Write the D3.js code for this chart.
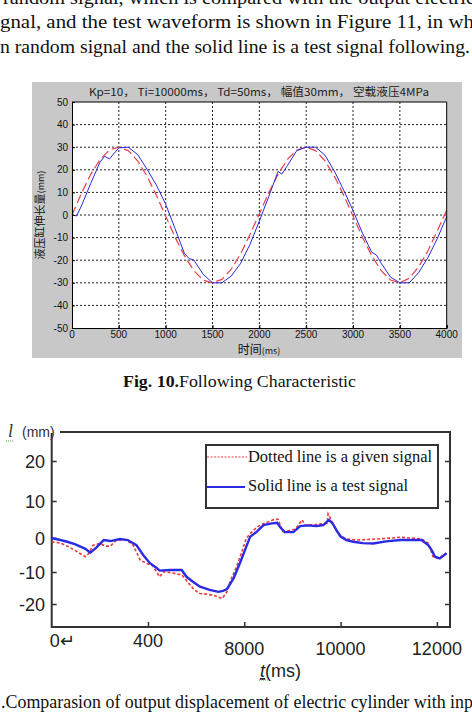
<!DOCTYPE html>
<html>
<head>
<meta charset="utf-8">
<script src="https://cdn.jsdelivr.net/npm/d3@7"></script>
<style>
  body { margin: 0; background: #fff; }
  svg { display: block; }
</style>
</head>
<body>
<div id="chart"></div>
<script>
// ---------- data: Fig. 10 (sine following test) ----------
const fig10Time = [0, 100, 200, 300, 400, 500, 600, 700, 800, 900, 1000, 1100, 1200, 1300, 1400, 1500, 1600, 1700, 1800, 1900, 2000,
  2100, 2200, 2300, 2400, 2500, 2600, 2700, 2800, 2900, 3000, 3100, 3200, 3300, 3400, 3500, 3600, 3700, 3800, 3900, 4000];
const fig10Given = [0, 9.5, 18, 24.6, 28.8, 30, 28.5, 24, 17.2, 8.8, -0.5, -9.8, -18, -24.6, -28.8, -30, -28.5, -24, -17.2, -8.6, 0.5,
  9.8, 18, 24.6, 28.8, 30, 28.5, 24, 17.2, 8.8, -0.5, -9.8, -18, -24.6, -28.8, -30, -28, -23, -15.8, -7, 2.2];
const fig10TestTime = [0, 50, 100, 200, 300, 350, 400, 450, 500, 600, 700, 800, 900, 1000, 1100, 1200, 1250, 1300, 1400, 1500, 1600,
  1700, 1800, 1900, 2000, 2100, 2200, 2240, 2300, 2400, 2500, 2600, 2700, 2800, 2900, 3000, 3100, 3200, 3250, 3300, 3400, 3500, 3600,
  3700, 3800, 3900, 4000];
const fig10Test = [0, -0.4, 4, 14, 23.5, 26, 24.8, 27.3, 29.7, 30, 26.8, 20.3, 13.3, 4.8, -6, -17, -19.3, -19.9, -26.2, -30, -30,
  -27, -21.4, -13, -2.7, 8.1, 19.3, 18.1, 21.9, 28.5, 30, 30, 26.5, 19.5, 11, 2, -8, -16.5, -17.7, -21.3, -27.5, -30, -30,
  -25.5, -18.8, -10.4, -0.7];
const fig10XTicks = [0, 500, 1000, 1500, 2000, 2500, 3000, 3500, 4000];
const fig10YTicks = [50, 40, 30, 20, 10, 0, -10, -20, -30, -40, -50];

// ---------- data: Fig. 11 (random signal following) ----------
// x is in tick-slot units (the printed tick labels are not evenly valued)
const fig11TestX = [0, 0.09, 0.16, 0.24, 0.35, 0.40, 0.46, 0.54, 0.61, 0.71, 0.79, 0.88, 0.95, 1.02, 1.09, 1.12, 1.23, 1.35, 1.40,
  1.47, 1.54, 1.64, 1.73, 1.78, 1.82, 1.89, 1.96, 2.02, 2.06, 2.13, 2.20, 2.27, 2.34, 2.38, 2.42, 2.51, 2.58, 2.66, 2.75, 2.82,
  2.88, 2.92, 2.96, 3.00, 3.06, 3.13, 3.23, 3.34, 3.47, 3.62, 3.73, 3.84, 3.91, 3.95, 3.98, 4.03, 4.10];
const fig11Test = [0, -0.6, -1.1, -1.8, -3.2, -4.3, -2.9, -0.6, -0.9, -0.3, -0.6, -2.1, -5.0, -7.4, -8.8, -9.6, -9.4, -9.4, -11.5,
  -13.1, -14.6, -15.6, -16.2, -15.9, -15.3, -11.9, -7.0, -2.6, 0.3, 1.7, 3.5, 3.9, 4.1, 2.7, 1.6, 1.6, 3.2, 3.4, 3.2, 3.5,
  4.9, 3.8, 2.0, 0.4, -0.6, -1.1, -1.5, -1.6, -1.0, -0.6, -0.6, -0.6, -2.1, -3.8, -5.5, -6.0, -4.5];
const fig11GivenX = [0, 0.09, 0.17, 0.25, 0.35, 0.38, 0.43, 0.50, 0.56, 0.61, 0.66, 0.71, 0.77, 0.84, 0.92, 0.98, 1.05, 1.09, 1.12,
  1.16, 1.23, 1.35, 1.42, 1.48, 1.54, 1.60, 1.68, 1.77, 1.82, 1.86, 1.92, 1.97, 2.02, 2.07, 2.13, 2.19, 2.30, 2.35, 2.40, 2.47,
  2.53, 2.60, 2.63, 2.73, 2.86, 2.87, 2.90, 2.95, 2.99, 3.06, 3.17, 3.31, 3.48, 3.62, 3.73, 3.84, 3.91, 3.96, 4.01, 4.10];
const fig11Given = [-1.1, -1.5, -2.5, -3.8, -5.5, -4.7, -2.1, -1.6, -2.4, -2.4, -0.9, -0.6, -0.6, -1.8, -6.5, -7.4, -8.2, -10.0, -11.5,
  -9.9, -10.2, -10.9, -13.4, -15.6, -16.7, -16.9, -17.3, -18.3, -16.2, -12.5, -8.4, -4.4, -0.1, 1.4, 2.9, 3.8, 4.9, 5.1, 1.7, 2.0,
  2.4, 4.9, 3.5, 3.6, 4.0, 6.5, 5.1, 2.2, 0.8, -0.3, -0.6, -0.4, -0.1, 0.2, 0, -0.3, -1.5, -5.5, -6.0, -4.5];
const fig11XTicks = [0, 1, 2, 3, 4];
const fig11XLabels = ["0\u21B5", "400", "8000", "10000", "12000"];
const fig11YTicks = [20, 10, 0, -10, -20];

const W = 472, H = 716;
const svg = d3.select("#chart").append("svg")
  .attr("width", W).attr("height", H)
  .style("background", "#fff");

const serif = "'Liberation Serif', 'Times New Roman', serif";
const sans = "'Liberation Sans', Arial, sans-serif";

// ---------- page text ----------
const para = [
  { t: "random signal, which is compared with the output electric", x: 3, y: 4, len: 472 },
  { t: "gnal, and the test waveform is shown in Figure 11, in wh", x: 0, y: 28, len: 474 },
  { t: "n random signal and the solid line is a test signal following.", x: 0, y: 53, len: 470 }
];
svg.selectAll("text.para").data(para).enter().append("text")
  .attr("class", "para")
  .attr("x", d => d.x).attr("y", d => d.y)
  .attr("textLength", d => d.len).attr("lengthAdjust", "spacingAndGlyphs")
  .style("font-family", serif).style("font-size", "18px").style("fill", "#111")
  .text(d => d.t);

// =========================
// FIG. 10
// =========================
const g1 = svg.append("g");
g1.append("rect").attr("x", 32).attr("y", 82).attr("width", 430).attr("height", 276).attr("fill", "#c8c8c8");

const x1 = d3.scaleLinear().domain([0, 4000]).range([72, 446.7]);
const y1 = d3.scaleLinear().domain([-50, 50]).range([328, 102]);

g1.append("rect").attr("x", x1(0)).attr("y", y1(50))
  .attr("width", x1(4000) - x1(0)).attr("height", y1(-50) - y1(50)).attr("fill", "#fff");

// grid
g1.selectAll("line.vg").data(fig10XTicks.slice(1, -1)).enter().append("line")
  .attr("x1", d => x1(d)).attr("x2", d => x1(d)).attr("y1", y1(50)).attr("y2", y1(-50))
  .attr("stroke", "#222").attr("stroke-width", 1).attr("stroke-dasharray", "2,2");
g1.selectAll("line.hg").data(fig10YTicks.slice(1, -1)).enter().append("line")
  .attr("y1", d => y1(d)).attr("y2", d => y1(d)).attr("x1", x1(0)).attr("x2", x1(4000))
  .attr("stroke", "#222").attr("stroke-width", 1).attr("stroke-dasharray", "2,2");

const line1 = d3.line().x(d => x1(d[0])).y(d => y1(d[1]));
g1.append("path").datum(d3.zip(fig10Time, fig10Given))
  .attr("d", line1).attr("fill", "none").attr("stroke", "#e8404a")
  .attr("stroke-width", 1.2).attr("stroke-dasharray", "9,4");
g1.append("path").datum(d3.zip(fig10TestTime, fig10Test))
  .attr("d", line1).attr("fill", "none").attr("stroke", "#2a2ad8").attr("stroke-width", 1);

// axes box
g1.append("g").attr("transform", `translate(0,${y1(-50)})`)
  .call(d3.axisBottom(x1).tickValues(fig10XTicks).tickSize(-3).tickFormat(""))
  .call(g => g.select(".domain").attr("stroke", "#000"));
g1.append("g").attr("transform", `translate(${x1(0)},0)`)
  .call(d3.axisLeft(y1).tickValues(fig10YTicks).tickSize(-3).tickFormat(""))
  .call(g => g.select(".domain").attr("stroke", "#000"));
g1.append("line").attr("x1", x1(0)).attr("x2", x1(4000)).attr("y1", y1(50)).attr("y2", y1(50)).attr("stroke", "#000");
g1.append("line").attr("x1", x1(4000)).attr("x2", x1(4000)).attr("y1", y1(50)).attr("y2", y1(-50)).attr("stroke", "#000");

g1.selectAll("text.xl").data(fig10XTicks).enter().append("text")
  .attr("x", d => x1(d)).attr("y", 337.5).attr("text-anchor", "middle")
  .style("font-family", sans).style("font-size", "10px").style("fill", "#111")
  .text(d => d);
g1.selectAll("text.yl").data(fig10YTicks).enter().append("text")
  .attr("x", 68).attr("y", d => y1(d) + 3.5).attr("text-anchor", "end")
  .style("font-family", sans).style("font-size", "10px").style("fill", "#111")
  .text(d => d);

g1.append("text").attr("x", 259).attr("y", 96).attr("text-anchor", "middle")
  .attr("textLength", 340).attr("lengthAdjust", "spacingAndGlyphs")
  .style("font-family", "'Noto Sans CJK SC', sans-serif").style("font-size", "11px").style("fill", "#222")
  .text("Kp=10，  Ti=10000ms，  Td=50ms，  幅值30mm，  空载液压4MPa");

const xl1 = g1.append("text").attr("x", 259).attr("y", 353.5).attr("text-anchor", "middle")
  .style("font-family", "'Noto Sans CJK SC', sans-serif").style("fill", "#111");
xl1.append("tspan").style("font-size", "12px").text("时间");
xl1.append("tspan").style("font-size", "9px").text("(ms)");

const yl1 = g1.append("text").attr("transform", "translate(44,215) rotate(-90)").attr("text-anchor", "middle")
  .style("font-family", "'Noto Sans CJK SC', sans-serif").style("fill", "#111");
yl1.append("tspan").style("font-size", "11px").text("液压缸伸长量");
yl1.append("tspan").style("font-size", "9px").text("(mm)");

const cap1 = svg.append("text").attr("x", 123).attr("y", 387)
  .attr("textLength", 233).attr("lengthAdjust", "spacingAndGlyphs")
  .style("font-family", serif).style("font-size", "17px").style("fill", "#111");
cap1.append("tspan").style("font-weight", "bold").text("Fig. 10.");
cap1.append("tspan").text("Following Characteristic");

// =========================
// FIG. 11
// =========================
const g2 = svg.append("g");
const x2 = d3.scaleLinear().domain([0, 4.136]).range([51.7, 450]);
const y2 = d3.scaleLinear().domain([-20, -10, 0, 10, 20]).range([604, 572, 538, 501, 461]);
const axisColor = "#333";

g2.append("g").attr("transform", "translate(51.7,0)")
  .call(d3.axisLeft(y2).tickValues(fig11YTicks).tickSize(-5).tickFormat("").tickSizeOuter(0))
  .call(g => g.select(".domain").remove())
  .call(g => g.selectAll(".tick line").attr("stroke", axisColor).attr("stroke-width", 1.5));
g2.append("g").attr("transform", "translate(450,0)")
  .call(d3.axisRight(y2).tickValues(fig11YTicks).tickSize(-5).tickFormat("").tickSizeOuter(0))
  .call(g => g.select(".domain").remove())
  .call(g => g.selectAll(".tick line").attr("stroke", axisColor).attr("stroke-width", 1.5));
g2.append("g").attr("transform", "translate(0,627)")
  .call(d3.axisBottom(x2).tickValues(fig11XTicks.slice(1)).tickSize(-5).tickFormat("").tickSizeOuter(0))
  .call(g => g.select(".domain").remove())
  .call(g => g.selectAll(".tick line").attr("stroke", axisColor).attr("stroke-width", 1.5));

g2.append("path").attr("d", "M60,432H450V627H51.7V433")
  .attr("fill", "none").attr("stroke", axisColor).attr("stroke-width", 2);

const line2 = d3.line().x(d => x2(d[0])).y(d => y2(d[1]));
g2.append("path").datum(d3.zip(fig11GivenX, fig11Given))
  .attr("d", line2).attr("fill", "none").attr("stroke", "#f03838")
  .attr("stroke-width", 1.6).attr("stroke-dasharray", "3,2");
g2.append("path").datum(d3.zip(fig11TestX, fig11Test))
  .attr("d", line2).attr("fill", "none").attr("stroke", "#2b2be6").attr("stroke-width", 2.4);

// legend
g2.append("rect").attr("x", 206).attr("y", 445).attr("width", 232).attr("height", 63)
  .attr("fill", "#fff").attr("stroke", axisColor).attr("stroke-width", 2);
g2.append("line").attr("x1", 207).attr("x2", 247).attr("y1", 457).attr("y2", 457)
  .attr("stroke", "#f03838").attr("stroke-width", 1.2).attr("stroke-dasharray", "2,1.5");
g2.append("line").attr("x1", 207).attr("x2", 245).attr("y1", 487).attr("y2", 487)
  .attr("stroke", "#2b2be6").attr("stroke-width", 2);
g2.append("text").attr("x", 248).attr("y", 462).attr("textLength", 184).attr("lengthAdjust", "spacingAndGlyphs")
  .style("font-family", serif).style("font-size", "16px").style("fill", "#111")
  .text("Dotted line is a given signal");
g2.append("text").attr("x", 248).attr("y", 491).attr("textLength", 160).attr("lengthAdjust", "spacingAndGlyphs")
  .style("font-family", serif).style("font-size", "16px").style("fill", "#111")
  .text("Solid line is a test signal");

// tick labels
g2.selectAll("text.yl2").data(fig11YTicks).enter().append("text")
  .attr("x", 45).attr("y", d => y2(d) + 6.5).attr("text-anchor", "end")
  .style("font-family", sans).style("font-size", "18px").style("fill", "#222")
  .text(d => d);
g2.selectAll("text.xl2").data(fig11XTicks).enter().append("text")
  .attr("x", d => d === 0 ? x2(d) - 2 : x2(d))
  .attr("y", (d, i) => i < 2 ? 647 : 655)
  .attr("text-anchor", d => d === 0 ? "start" : "middle")
  .style("font-family", sans).style("font-size", "18px").style("fill", "#222")
  .text((d, i) => fig11XLabels[i]);

// axis titles
g2.append("text").attr("x", 8).attr("y", 437)
  .style("font-family", serif).style("font-style", "italic").style("font-size", "18px").style("fill", "#333").text("l");
g2.append("text").attr("x", 22).attr("y", 437)
  .style("font-family", sans).style("font-size", "14px").style("fill", "#333").text("(mm)");
g2.append("line").attr("x1", 6).attr("x2", 14).attr("y1", 441).attr("y2", 441)
  .attr("stroke", "#4a4").attr("stroke-width", 1).attr("stroke-dasharray", "1,1");

const tl = g2.append("text").attr("x", 260).attr("y", 677)
  .style("font-family", sans).style("font-size", "18px").style("fill", "#222");
tl.append("tspan").style("font-style", "italic").style("text-decoration", "underline").text("t");
tl.append("tspan").text("(ms)");
g2.append("line").attr("x1", 259).attr("x2", 268).attr("y1", 680).attr("y2", 680)
  .attr("stroke", "#4a4").attr("stroke-width", 1).attr("stroke-dasharray", "1,1");

svg.append("text").attr("x", 1).attr("y", 708)
  .attr("textLength", 472).attr("lengthAdjust", "spacingAndGlyphs")
  .style("font-family", serif).style("font-size", "18px").style("fill", "#111")
  .text(".Comparasion of output displacement of electric cylinder with inp");
</script>
</body>
</html>
